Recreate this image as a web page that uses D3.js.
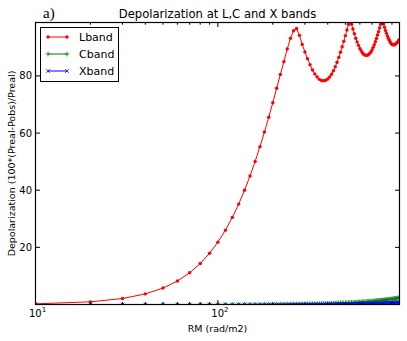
<!DOCTYPE html>
<html>
<head>
<meta charset="utf-8">
<script src="https://cdn.jsdelivr.net/npm/d3@7/dist/d3.min.js"></script>
<style>
  body { margin: 0; background: #fff; }
  text { font-family: "DejaVu Sans", sans-serif; fill: #000; }
</style>
</head>
<body>
<div id="chart"></div>
<script>
// RM grid (rad/m2)
const rm = [10, 20, 30, 40, 50, 60, 70, 80, 90, 100,
    110, 120, 130, 140, 150, 160, 170, 180, 190, 200,
    210, 220, 230, 240, 250, 260, 270, 280, 290, 300,
    310, 320, 330, 340, 350, 360, 370, 380, 390, 400,
    410, 420, 430, 440, 450, 460, 470, 480, 490, 500,
    510, 520, 530, 540, 550, 560, 570, 580, 590, 600,
    610, 620, 630, 640, 650, 660, 670, 680, 690, 700,
    710, 720, 730, 740, 750, 760, 770, 780, 790, 800,
    810, 820, 830, 840, 850, 860, 870, 880, 890, 900,
    910, 920, 930, 940, 950, 960, 970, 980, 990];

const lband = [0.23, 0.93, 2.09, 3.71, 5.75, 8.22, 11.09, 14.33, 17.92, 21.83,
    26.03, 30.48, 35.14, 39.99, 44.98, 50.06, 55.22, 60.38, 65.53, 70.62,
    75.68, 80.50, 85.0, 89.4, 93.2, 95.8, 96.6, 94.2, 91.0, 88.4,
    86.0, 83.9, 82.1, 80.7, 79.6, 78.8, 78.4, 78.3, 78.5, 78.9,
    79.6, 80.6, 81.8, 83.2, 84.8, 86.5, 88.3, 90.2, 92.1, 94.1,
    96.1, 98.1, 98.7, 98.1, 96.4, 94.8, 93.2, 91.9, 90.7, 89.6,
    88.8, 88.1, 87.6, 87.3, 87.2, 87.2, 87.5, 87.9, 88.4, 89.1,
    90.0, 90.9, 92.0, 93.1, 94.3, 95.5, 96.8, 98.1, 98.6, 98.7,
    98.2, 97.0, 95.9, 94.9, 94.0, 93.2, 92.5, 91.9, 91.4, 91.1,
    90.9, 90.9, 90.9, 91.1, 91.4, 91.7, 92.0, 92.4, 92.8];

const cband = [0.00, 0.00, 0.00, 0.00, 0.01, 0.01, 0.01, 0.02, 0.02, 0.02,
    0.03, 0.03, 0.04, 0.05, 0.05, 0.06, 0.07, 0.08, 0.08, 0.09,
    0.10, 0.11, 0.12, 0.14, 0.15, 0.16, 0.17, 0.18, 0.20, 0.21,
    0.23, 0.24, 0.26, 0.27, 0.29, 0.30, 0.32, 0.34, 0.36, 0.38,
    0.39, 0.41, 0.43, 0.45, 0.48, 0.50, 0.52, 0.54, 0.56, 0.59,
    0.61, 0.63, 0.66, 0.68, 0.71, 0.74, 0.76, 0.79, 0.82, 0.85,
    0.87, 0.90, 0.93, 0.96, 0.99, 1.02, 1.05, 1.09, 1.12, 1.15,
    1.18, 1.22, 1.25, 1.29, 1.32, 1.36, 1.39, 1.43, 1.47, 1.50,
    1.54, 1.58, 1.62, 1.66, 1.70, 1.74, 1.78, 1.82, 1.86, 1.90,
    1.94, 1.99, 2.03, 2.07, 2.12, 2.16, 2.21, 2.25, 2.30];

const xband = [0.00, 0.00, 0.00, 0.00, 0.00, 0.00, 0.00, 0.00, 0.01, 0.01,
    0.01, 0.01, 0.01, 0.01, 0.02, 0.02, 0.02, 0.02, 0.03, 0.03,
    0.03, 0.03, 0.04, 0.04, 0.04, 0.05, 0.05, 0.06, 0.06, 0.06,
    0.07, 0.07, 0.08, 0.08, 0.09, 0.09, 0.10, 0.10, 0.11, 0.11,
    0.12, 0.13, 0.13, 0.14, 0.14, 0.15, 0.16, 0.16, 0.17, 0.18,
    0.19, 0.19, 0.20, 0.21, 0.22, 0.22, 0.23, 0.24, 0.25, 0.26,
    0.27, 0.27, 0.28, 0.29, 0.30, 0.31, 0.32, 0.33, 0.34, 0.35,
    0.36, 0.37, 0.38, 0.39, 0.40, 0.41, 0.42, 0.43, 0.45, 0.46,
    0.47, 0.48, 0.49, 0.50, 0.52, 0.53, 0.54, 0.55, 0.57, 0.58,
    0.59, 0.60, 0.62, 0.63, 0.64, 0.66, 0.67, 0.69, 0.70];

const seriesNames = ['Lband', 'Cband', 'Xband'];
const seriesColors = ['#ff0000', '#008000', '#0000ff'];
const yTicks = [20, 40, 60, 80];
const xMajor = [10, 100];
const xMajorExp = ['1', '2'];
const xMinor = [20, 30, 40, 50, 60, 70, 80, 90, 200, 300, 400, 500, 600, 700, 800, 900];

const W = 407, H = 341;
const plot = {left: 35.5, right: 399.5, top: 22.5, bottom: 304.5};

const svg = d3.select('#chart').append('svg')
    .attr('width', W)
    .attr('height', H);

const x = d3.scaleLog().domain([10, 990]).range([plot.left, plot.right]);
const y = d3.scaleLinear().domain([0, 98.7]).range([plot.bottom, plot.top]);

// clip to axes box
svg.append('clipPath').attr('id', 'clip')
    .append('rect')
    .attr('x', plot.left).attr('y', plot.top)
    .attr('width', plot.right - plot.left)
    .attr('height', plot.bottom - plot.top);

const g = svg.append('g').attr('clip-path', 'url(#clip)');

const series = [lband, cband, xband];
const line = d3.line().x((d, i) => x(rm[i])).y(d => y(d));

// markers
const plusPath = 'M-2.5,0H2.5M0,-2.5V2.5';
const crossPath = 'M-1.8,-1.8L1.8,1.8M-1.8,1.8L1.8,-1.8';

function drawMarker(sel, k, color) {
    if (k === 0) {
        sel.append('circle').attr('r', 1.7).attr('fill', color);
    } else {
        sel.append('path')
            .attr('d', k === 1 ? plusPath : crossPath)
            .attr('stroke', color)
            .attr('stroke-width', 0.8)
            .attr('fill', 'none');
    }
}

series.forEach((vals, k) => {
    g.append('path')
        .datum(vals)
        .attr('fill', 'none')
        .attr('stroke', seriesColors[k])
        .attr('stroke-width', 1)
        .attr('d', line);

    g.selectAll('.m' + k)
        .data(vals)
        .enter()
        .append('g')
        .attr('class', 'm' + k)
        .attr('transform', (d, i) => `translate(${x(rm[i])},${y(d)})`)
        .each(function() { drawMarker(d3.select(this), k, seriesColors[k]); });
});

// ticks (inward, all four sides)
const axisG = svg.append('g').attr('stroke', '#000').attr('stroke-width', 1);
function vTick(px, len) {
    axisG.append('line').attr('x1', px).attr('x2', px).attr('y1', plot.bottom).attr('y2', plot.bottom - len);
    axisG.append('line').attr('x1', px).attr('x2', px).attr('y1', plot.top).attr('y2', plot.top + len);
}
function hTick(py, len) {
    axisG.append('line').attr('y1', py).attr('y2', py).attr('x1', plot.left).attr('x2', plot.left + len);
    axisG.append('line').attr('y1', py).attr('y2', py).attr('x1', plot.right).attr('x2', plot.right - len);
}
xMajor.forEach(v => vTick(x(v), 4.5));
xMinor.forEach(v => vTick(x(v), 2.2));
yTicks.forEach(v => hTick(y(v), 4.5));

// frame
svg.append('rect')
    .attr('x', plot.left).attr('y', plot.top)
    .attr('width', plot.right - plot.left)
    .attr('height', plot.bottom - plot.top)
    .attr('fill', 'none')
    .attr('stroke', '#000')
    .attr('stroke-width', 1.2);

// tick labels
xMajor.forEach((v, i) => {
    const t = svg.append('text')
        .attr('x', x(v) + 2)
        .attr('y', 317)
        .attr('text-anchor', 'middle')
        .style('font-size', '10px');
    t.append('tspan').text('10');
    t.append('tspan').attr('dy', -5).style('font-size', '7px').text(xMajorExp[i]);
});

yTicks.forEach(v => {
    svg.append('text')
        .attr('x', 32)
        .attr('y', y(v))
        .attr('dy', '0.35em')
        .attr('text-anchor', 'end')
        .style('font-size', '10px')
        .text(v);
});

// labels
svg.append('text')
    .attr('x', (plot.left + plot.right) / 2)
    .attr('y', 18)
    .attr('text-anchor', 'middle')
    .style('font-size', '11.6px')
    .text('Depolarization at L,C and X bands');

svg.append('text')
    .attr('x', (plot.left + plot.right) / 2)
    .attr('y', 332)
    .attr('text-anchor', 'middle')
    .style('font-size', '9.5px')
    .text('RM (rad/m2)');

svg.append('text')
    .attr('transform', `translate(15,${(plot.top + plot.bottom) / 2}) rotate(-90)`)
    .attr('text-anchor', 'middle')
    .style('font-size', '9.5px')
    .text('Depolarization (100*(Preal-Pobs)/Preal)');

svg.append('text')
    .attr('x', 43)
    .attr('y', 18)
    .attr('style', 'font-family: "Liberation Serif", "DejaVu Serif", serif; font-size: 15px')
    .text('a)');

// legend
const leg = svg.append('g').attr('transform', 'translate(40.5,27.5)');
leg.append('rect')
    .attr('width', 78).attr('height', 54)
    .attr('fill', '#fff')
    .attr('stroke', '#000')
    .attr('stroke-width', 1);

seriesNames.forEach((name, k) => {
    const cy = 9.5 + k * 17;
    leg.append('line')
        .attr('x1', 7.5).attr('x2', 26.5)
        .attr('y1', cy).attr('y2', cy)
        .attr('stroke', seriesColors[k])
        .attr('stroke-width', 1);
    [7.5, 26.5].forEach(mx => {
        const mg = leg.append('g').attr('transform', `translate(${mx},${cy})`);
        drawMarker(mg, k, seriesColors[k]);
    });
    leg.append('text')
        .attr('x', 38.5)
        .attr('y', cy)
        .attr('dy', '0.37em')
        .style('font-size', '11px')
        .text(name);
});
</script>
</body>
</html>
